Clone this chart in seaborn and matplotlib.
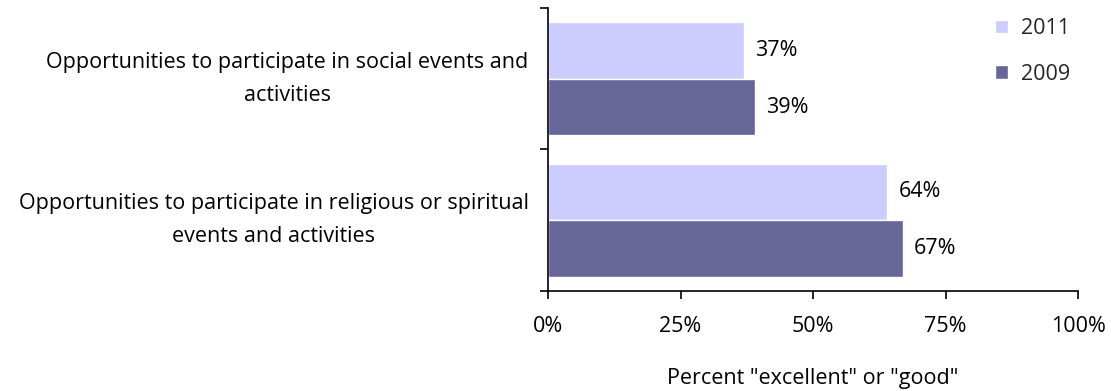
import pandas as pd
import matplotlib.pyplot as plt
import seaborn as sns
from matplotlib.ticker import FixedLocator

categories = [
    'Opportunities to participate in social events and\nactivities',
    'Opportunities to participate in religious or spiritual\nevents and activities',
]
years = ['2011', '2009']
values_2011 = [37, 64]
values_2009 = [39, 67]
colors = {'2011': '#CCCCFF', '2009': '#666699'}

df = pd.DataFrame({
    'Category': categories * 2,
    'Year': ['2011'] * 2 + ['2009'] * 2,
    'Percent': values_2011 + values_2009,
})

sns.set_style('white')
plt.rcParams['font.family'] = ['Open Sans', 'DejaVu Sans']
fs = 15.5

fig = plt.figure(figsize=(11.11, 3.91), dpi=100)
ax = fig.add_axes([548 / 1111, 100 / 391, 530 / 1111, 283 / 391])

sns.barplot(data=df, y='Category', x='Percent', hue='Year', hue_order=years,
            order=categories, orient='h', palette=colors, width=0.8,
            saturation=1, edgecolor='white', linewidth=1, ax=ax)

# value labels
for cont in ax.containers:
    ax.bar_label(cont, labels=[f'{v:.0f}%' for v in cont.datavalues],
                 padding=8, fontsize=fs, color='black')

ax.set_xlim(0, 100)
ax.set_ylim(1.5, -0.5)
ax.set_xticks([0, 25, 50, 75, 100])
ax.set_xticklabels(['0%', '25%', '50%', '75%', '100%'], fontsize=fs)
ax.tick_params(axis='x', direction='out', length=6, width=1.2, color='black',
               pad=12, bottom=True, labelcolor='black')

# category labels at centres, tick marks at category boundaries
ax.set_yticks([0, 1])
ax.set_yticklabels(categories, fontsize=fs, multialignment='center',
                   linespacing=1.75, va='center')
ax.tick_params(axis='y', which='major', length=0, pad=14, labelcolor='black')
ax.yaxis.set_minor_locator(FixedLocator([-0.5, 0.5, 1.5]))
ax.tick_params(axis='y', which='minor', direction='out', length=6, width=1.2,
               color='black', left=True)

for side in ['top', 'right']:
    ax.spines[side].set_visible(False)
for side in ['left', 'bottom']:
    ax.spines[side].set_color('black')
    ax.spines[side].set_linewidth(1.2)

ax.set_ylabel('')
ax.set_xlabel('Percent "excellent" or "good"', fontsize=fs, labelpad=22,
              color='black')

ax.legend(loc='upper right', bbox_to_anchor=(1.01, 1.01), frameon=False,
          fontsize=fs, handlelength=0.6, handleheight=0.6, handletextpad=0.6,
          labelspacing=1.15, borderaxespad=0.2)

fig.savefig('out.png', dpi=100)
